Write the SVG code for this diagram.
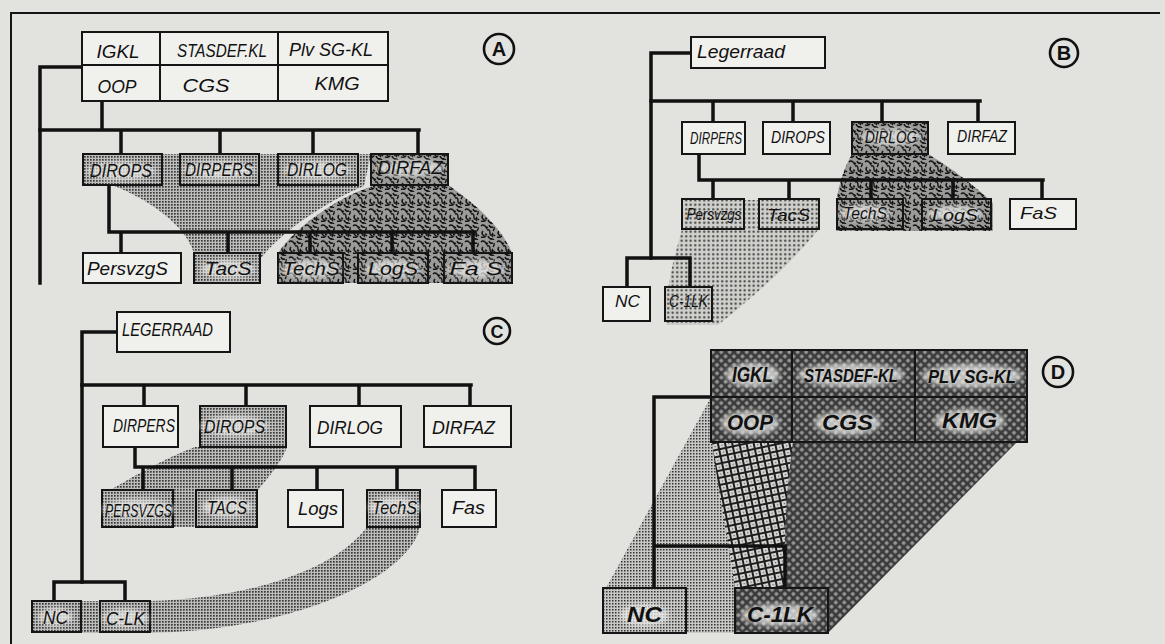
<svg xmlns="http://www.w3.org/2000/svg" width="1165" height="644" viewBox="0 0 1165 644">
<defs>
<style>
.bx{stroke:#151515;stroke-width:2}
.w{fill:#f0f0ed}
.ht{fill:url(#ht)}
.sd{fill:url(#sand)}
.ld{fill:url(#ld)}
.fd{fill:url(#fd)}
.dia{fill:url(#dia)}
.t{font-family:"Liberation Sans",Arial,sans-serif;font-style:italic;fill:#111;text-anchor:middle}
.s15{font-size:16.5px}.s16{font-size:17.5px}.s17{font-size:19px}.s20{font-size:22px;font-weight:bold}.s19{font-size:19px;font-weight:bold}
.cn{fill:none;stroke:#111;stroke-width:3.5;stroke-linecap:square}
.halo{fill:#ececea;filter:url(#blur);opacity:0.75}
.lbl{fill:none;stroke:#111;stroke-width:2.6}
.lt{font-family:"Liberation Sans",Arial,sans-serif;font-weight:bold;font-size:20px;fill:#111;text-anchor:middle}
</style>
<filter id="blur" x="-50%" y="-50%" width="200%" height="200%"><feGaussianBlur stdDeviation="2.5"/></filter>
<pattern id="ht" width="3" height="3" patternUnits="userSpaceOnUse"><rect width="3" height="3" fill="#bdbdbb"/><rect width="1.7" height="1.7" fill="#3a3a3a"/></pattern>
<pattern id="ld" width="4.5" height="4.5" patternUnits="userSpaceOnUse"><rect width="4.5" height="4.5" fill="#cfcfcc"/><circle cx="2.2" cy="2.2" r="1.1" fill="#3a3a3a"/></pattern>
<pattern id="fd" width="3" height="3" patternUnits="userSpaceOnUse"><rect width="3" height="3" fill="#c8c8c6"/><rect width="1.5" height="1.5" fill="#333"/></pattern>
<pattern id="dia" width="6" height="6" patternUnits="userSpaceOnUse" patternTransform="rotate(45)"><rect width="6" height="6" fill="#3a3a3a"/><rect x="1.5" y="1.5" width="3" height="3" fill="#bdbdbd"/><rect x="2.5" y="2.5" width="1" height="1" fill="#333"/></pattern>
<pattern id="grid" width="7" height="7" patternUnits="userSpaceOnUse" patternTransform="rotate(-12)"><rect width="7" height="7" fill="#d4d4d2"/><rect width="7" height="2" fill="#1e1e1e"/><rect width="2" height="7" fill="#1e1e1e"/><rect x="4" y="4" width="1.2" height="1.2" fill="#555"/></pattern>
<pattern id="sand" width="16" height="16" patternUnits="userSpaceOnUse"><rect width="16" height="16" fill="#9a9a98"/><g fill="none" stroke="#111" stroke-width="1.4"><path d="M1,2q2,-2 4,0t3,1"/><path d="M9,1q1,3 4,2"/><path d="M3,7q-2,2 0,4t2,2"/><path d="M7,6q3,-1 3,3t3,1"/><path d="M12,9q2,2 0,4"/><path d="M1,13q3,1 5,-1"/><path d="M8,12q1,3 4,3"/><path d="M14,3q1,2 -1,4"/><path d="M5,10l2,1"/><path d="M10,15q2,-1 4,1"/><path d="M6,3l1,2"/><path d="M15,11l-1,1"/></g></pattern>
</defs>
<rect width="1165" height="644" fill="#e2e2df"/>
<g id="frame"><path d="M11,644V13H1160" fill="none" stroke="#151515" stroke-width="2"/></g>

<g id="shading">
<path class="ht" d="M112,185L162,185L162,154L371,154L364,186C330,200 285,228 261,258L261,283L194,283L194,253C185,225 150,200 112,185Z"/>
<path class="sd" d="M371,154L448,154L448,185C478,205 503,230 512,253L512,283L278,283L278,253C295,228 335,198 373,186Z"/>
<path class="ld" d="M682,200L819,200L819,229C790,265 750,300 718,325L666,325L668,290C672,262 678,245 682,229Z"/>
<path class="sd" d="M852,150L928,150L928,154C955,170 982,192 993,203L993,231L836,231L836,205C838,185 845,166 852,154Z"/>
<path class="ht" d="M195,447L287,447C282,462 268,478 258,490L258,527L102,527L102,495C130,478 165,458 195,447Z"/>
<path class="ht" d="M367,527L420,527C410,575 300,630 150,633L32,633L32,601L150,601C250,598 335,570 367,527Z"/>
<path class="fd" d="M711,397L760,397L760,633L603,633L603,592L606,588Z"/>
<path class="dia" d="M760,442L1017,442L828,633L760,633Z"/>
<path fill="url(#grid)" d="M712,442L793,442C785,500 783,550 787,588L735,588C728,540 718,490 712,442Z"/>
</g>

<g id="connectors">
<path class="cn" d="M82,67H40V283"/>
<path class="cn" d="M102,101V130M40,130H419M121,130V154M220,130V154M313,130V154M418,130V154"/>
<path class="cn" d="M109,185V232H475M121,232V253M228,232V253M310,232V253M392,232V253M473,232V253"/>
<path class="cn" d="M691,53H651V258"/>
<path class="cn" d="M651,101H980M713,101V122M793,101V122M882,101V122M978,101V122"/>
<path class="cn" d="M699,154V180H1043M713,180V199M789,180V199M871,180V199M953,180V199M1042,180V199"/>
<path class="cn" d="M627,287V258H690V287"/>
<path class="cn" d="M117,332H82V582"/>
<path class="cn" d="M82,385H471M144,385V406M246,385V406M359,385V406M470,385V406"/>
<path class="cn" d="M135,447V467H475M143,467V490M232,467V490M317,467V490M397,467V490M475,467V490"/>
<path class="cn" d="M54,601V582H125V601"/>
<path class="cn" d="M711,397H654V588M654,546H785V588"/>
</g>

<g id="labelA"><circle class="lbl" cx="499" cy="49" r="15"/><text class="lt" x="499" y="56">A</text></g>
<g id="labelB"><circle class="lbl" cx="1064" cy="53" r="14"/><text class="lt" x="1064" y="60">B</text></g>
<g id="labelC"><circle class="lbl" cx="497" cy="331" r="13"/><text class="lt" x="497" y="338" style="font-size:18px">C</text></g>
<g id="labelD"><circle class="lbl" cx="1058" cy="372" r="15"/><text class="lt" x="1058" y="379">D</text></g>

<!-- Panel A -->
<g id="A-IGKL"><rect class="bx w" x="82" y="32" width="78" height="33"/><text class="t s17" x="118" y="58" textLength="43" lengthAdjust="spacingAndGlyphs">IGKL</text></g>
<g id="A-STASDEFKL"><rect class="bx w" x="160" y="32" width="118" height="33"/><text class="t s17" x="222" y="57" textLength="90" lengthAdjust="spacingAndGlyphs">STASDEF.KL</text></g>
<g id="A-PLVSGKL"><rect class="bx w" x="278" y="32" width="110" height="33"/><text class="t s17" x="331" y="56" textLength="84" lengthAdjust="spacingAndGlyphs">Plv SG-KL</text></g>
<g id="A-OOP"><rect class="bx w" x="82" y="65" width="78" height="36"/><text class="t s17" x="117" y="93" textLength="39" lengthAdjust="spacingAndGlyphs">OOP</text></g>
<g id="A-CGS"><rect class="bx w" x="160" y="65" width="118" height="36"/><text class="t s17" x="206" y="92" textLength="47" lengthAdjust="spacingAndGlyphs">CGS</text></g>
<g id="A-KMG"><rect class="bx w" x="278" y="65" width="110" height="36"/><text class="t s17" x="337" y="90" textLength="45" lengthAdjust="spacingAndGlyphs">KMG</text></g>
<g id="A-DIROPS"><rect class="bx ht" x="83" y="154" width="79" height="31"/><ellipse class="halo" cx="121" cy="171" rx="34" ry="9"/><text class="t s17" x="121" y="177" textLength="62" lengthAdjust="spacingAndGlyphs">DIROPS</text></g>
<g id="A-DIRPERS"><rect class="bx ht" x="180" y="154" width="79" height="31"/><ellipse class="halo" cx="219" cy="170" rx="36" ry="9"/><text class="t s17" x="219" y="176" textLength="68" lengthAdjust="spacingAndGlyphs">DIRPERS</text></g>
<g id="A-DIRLOG"><rect class="bx ht" x="278" y="154" width="80" height="31"/><ellipse class="halo" cx="317" cy="170" rx="33" ry="9"/><text class="t s17" x="317" y="176" textLength="60" lengthAdjust="spacingAndGlyphs">DIRLOG</text></g>
<g id="A-DIRFAZ"><rect class="bx sd" x="371" y="154" width="77" height="31"/><ellipse class="halo" cx="410" cy="168" rx="34" ry="8"/><text class="t s17" x="410" y="174" textLength="65" lengthAdjust="spacingAndGlyphs">DIRFAZ</text></g>
<g id="A-PersvzgS"><rect class="bx w" x="83" y="253" width="98" height="30"/><text class="t s17" x="127.5" y="275" textLength="81" lengthAdjust="spacingAndGlyphs">PersvzgS</text></g>
<g id="A-TacS"><rect class="bx ht" x="194" y="253" width="66" height="30"/><ellipse class="halo" cx="228" cy="269" rx="27" ry="9"/><text class="t s17" x="228" y="275" textLength="47" lengthAdjust="spacingAndGlyphs">TacS</text></g>
<g id="A-TechS"><rect class="bx sd" x="278" y="253" width="65" height="30"/><ellipse class="halo" cx="311" cy="269" rx="30" ry="9"/><text class="t s17" x="311" y="275" textLength="57" lengthAdjust="spacingAndGlyphs">TechS</text></g>
<g id="A-LogS"><rect class="bx sd" x="358" y="253" width="70" height="30"/><ellipse class="halo" cx="393" cy="269" rx="28" ry="9"/><text class="t s17" x="393" y="275" textLength="50" lengthAdjust="spacingAndGlyphs">LogS</text></g>
<g id="A-FaS"><rect class="bx sd" x="444" y="253" width="68" height="30"/><ellipse class="halo" cx="476" cy="269" rx="29" ry="9"/><text class="t s17" x="476" y="275" textLength="53" lengthAdjust="spacingAndGlyphs">Fa S</text></g>

<!-- Panel B -->
<g id="B-Legerraad"><rect class="bx w" x="691" y="37" width="134" height="31"/><text class="t s17" x="741" y="58" textLength="88" lengthAdjust="spacingAndGlyphs">Legerraad</text></g>
<g id="B-DIRPERS"><rect class="bx w" x="682" y="122" width="63" height="32"/><text class="t s15" x="716" y="144" textLength="52" lengthAdjust="spacingAndGlyphs">DIRPERS</text></g>
<g id="B-DIROPS"><rect class="bx w" x="763" y="122" width="67" height="32"/><text class="t s15" x="798" y="143" textLength="54" lengthAdjust="spacingAndGlyphs">DIROPS</text></g>
<g id="B-DIRLOG"><rect class="bx sd" x="852" y="122" width="76" height="32"/><ellipse class="halo" cx="891" cy="137" rx="30" ry="8"/><text class="t s15" x="891" y="143" textLength="52" lengthAdjust="spacingAndGlyphs">DIRLOG</text></g>
<g id="B-DIRFAZ"><rect class="bx w" x="948" y="122" width="67" height="32"/><text class="t s15" x="982" y="142" textLength="50" lengthAdjust="spacingAndGlyphs">DIRFAZ</text></g>
<g id="B-Persvzgs"><rect class="bx ld" x="682" y="199" width="62" height="30"/><text class="t s15" x="714" y="220" textLength="55" lengthAdjust="spacingAndGlyphs">Persvzgs</text></g>
<g id="B-TacS"><rect class="bx ld" x="759" y="199" width="60" height="30"/><text class="t s15" x="788.5" y="221" textLength="43" lengthAdjust="spacingAndGlyphs">TacS</text></g>
<g id="B-TechS"><rect class="bx sd" x="837" y="199" width="66" height="30"/><ellipse class="halo" cx="865" cy="213" rx="26" ry="8"/><text class="t s15" x="865" y="219" textLength="44" lengthAdjust="spacingAndGlyphs">TechS</text></g>
<g id="B-LogS"><rect class="bx sd" x="922" y="199" width="69" height="30"/><ellipse class="halo" cx="955" cy="214" rx="27" ry="8"/><text class="t s15" x="955" y="221" textLength="46" lengthAdjust="spacingAndGlyphs">LogS</text></g>
<g id="B-FaS"><rect class="bx w" x="1010" y="199" width="66" height="30"/><text class="t s15" x="1038.5" y="219" textLength="37" lengthAdjust="spacingAndGlyphs">FaS</text></g>
<g id="B-NC"><rect class="bx w" x="603" y="287" width="47" height="34"/><text class="t s15" x="627.5" y="307" textLength="25" lengthAdjust="spacingAndGlyphs">NC</text></g>
<g id="B-C1LK"><rect class="bx ld" x="665" y="287" width="47" height="34"/><text class="t s15" x="688.5" y="307" textLength="39" lengthAdjust="spacingAndGlyphs">C-1LK</text></g>

<!-- Panel C -->
<g id="C-LEGERRAAD"><rect class="bx w" x="117" y="312" width="113" height="40"/><text class="t s16" x="167.5" y="336" textLength="91" lengthAdjust="spacingAndGlyphs">LEGERRAAD</text></g>
<g id="C-DIRPERS"><rect class="bx w" x="103" y="406" width="75" height="41"/><text class="t s16" x="144" y="432" textLength="62" lengthAdjust="spacingAndGlyphs">DIRPERS</text></g>
<g id="C-DIROPS"><rect class="bx ht" x="200" y="406" width="86" height="41"/><ellipse class="halo" cx="234.5" cy="426" rx="34" ry="10"/><text class="t s16" x="234.5" y="433" textLength="61" lengthAdjust="spacingAndGlyphs">DIROPS</text></g>
<g id="C-DIRLOG"><rect class="bx w" x="310" y="406" width="91" height="41"/><text class="t s16" x="350" y="434" textLength="66" lengthAdjust="spacingAndGlyphs">DIRLOG</text></g>
<g id="C-DIRFAZ"><rect class="bx w" x="424" y="406" width="87" height="41"/><text class="t s16" x="463.5" y="434" textLength="63" lengthAdjust="spacingAndGlyphs">DIRFAZ</text></g>
<g id="C-PERSVZGS"><rect class="bx ht" x="102" y="490" width="71" height="37"/><ellipse class="halo" cx="138.5" cy="509" rx="36" ry="10"/><text class="t s16" x="138.5" y="517" textLength="67" lengthAdjust="spacingAndGlyphs">PERSVZGS</text></g>
<g id="C-TACS"><rect class="bx ht" x="196" y="490" width="61" height="37"/><ellipse class="halo" cx="227" cy="507" rx="25" ry="10"/><text class="t s16" x="227" y="514" textLength="40" lengthAdjust="spacingAndGlyphs">TACS</text></g>
<g id="C-Logs"><rect class="bx w" x="288" y="490" width="55" height="37"/><text class="t s16" x="318" y="515" textLength="40" lengthAdjust="spacingAndGlyphs">Logs</text></g>
<g id="C-TechS"><rect class="bx ht" x="367" y="490" width="53" height="37"/><ellipse class="halo" cx="394.5" cy="507" rx="26" ry="10"/><text class="t s16" x="394.5" y="514" textLength="45" lengthAdjust="spacingAndGlyphs">TechS</text></g>
<g id="C-Fas"><rect class="bx w" x="442" y="490" width="54" height="37"/><text class="t s16" x="468.5" y="514" textLength="33" lengthAdjust="spacingAndGlyphs">Fas</text></g>
<g id="C-NC"><rect class="bx ht" x="32" y="601" width="49" height="31"/><ellipse class="halo" cx="55.5" cy="617" rx="17" ry="9"/><text class="t s16" x="55.5" y="624" textLength="25" lengthAdjust="spacingAndGlyphs">NC</text></g>
<g id="C-CLK"><rect class="bx ht" x="100" y="601" width="50" height="31"/><ellipse class="halo" cx="125.5" cy="618" rx="23" ry="9"/><text class="t s16" x="125.5" y="625" textLength="39" lengthAdjust="spacingAndGlyphs">C-LK</text></g>

<!-- Panel D -->
<g id="D-IGKL"><rect class="bx dia" x="711" y="350" width="81" height="47"/><ellipse class="halo" cx="752.5" cy="375" rx="27" ry="12"/><text class="t s20" x="752.5" y="382" textLength="41" lengthAdjust="spacingAndGlyphs">IGKL</text></g>
<g id="D-STASDEFKL"><rect class="bx dia" x="792" y="350" width="123" height="47"/><ellipse class="halo" cx="851" cy="375" rx="53" ry="12"/><text class="t s19" x="851" y="382" textLength="94" lengthAdjust="spacingAndGlyphs">STASDEF-KL</text></g>
<g id="D-PLVSGKL"><rect class="bx dia" x="915" y="350" width="112" height="47"/><ellipse class="halo" cx="972" cy="376" rx="50" ry="12"/><text class="t s19" x="972" y="383" textLength="88" lengthAdjust="spacingAndGlyphs">PLV SG-KL</text></g>
<g id="D-OOP"><rect class="bx dia" x="711" y="397" width="81" height="45"/><ellipse class="halo" cx="750" cy="423" rx="29" ry="12"/><text class="t s20" x="750" y="430" textLength="46" lengthAdjust="spacingAndGlyphs">OOP</text></g>
<g id="D-CGS"><rect class="bx dia" x="792" y="397" width="123" height="45"/><ellipse class="halo" cx="847.5" cy="423" rx="33" ry="12"/><text class="t s20" x="847.5" y="430" textLength="51" lengthAdjust="spacingAndGlyphs">CGS</text></g>
<g id="D-KMG"><rect class="bx dia" x="915" y="397" width="112" height="45"/><ellipse class="halo" cx="969.5" cy="421" rx="35" ry="12"/><text class="t s20" x="969.5" y="428" textLength="55" lengthAdjust="spacingAndGlyphs">KMG</text></g>
<g id="D-NC"><rect class="bx fd" x="603" y="588" width="83" height="45"/><ellipse class="halo" cx="644.5" cy="615" rx="24" ry="11"/><text class="t s20" x="644.5" y="622" textLength="35" lengthAdjust="spacingAndGlyphs">NC</text></g>
<g id="D-C1LK"><rect class="bx dia" x="735" y="588" width="93" height="45"/><ellipse class="halo" cx="780" cy="615" rx="39" ry="11"/><text class="t s20" x="780" y="622" textLength="66" lengthAdjust="spacingAndGlyphs">C-1LK</text></g>
</svg>
